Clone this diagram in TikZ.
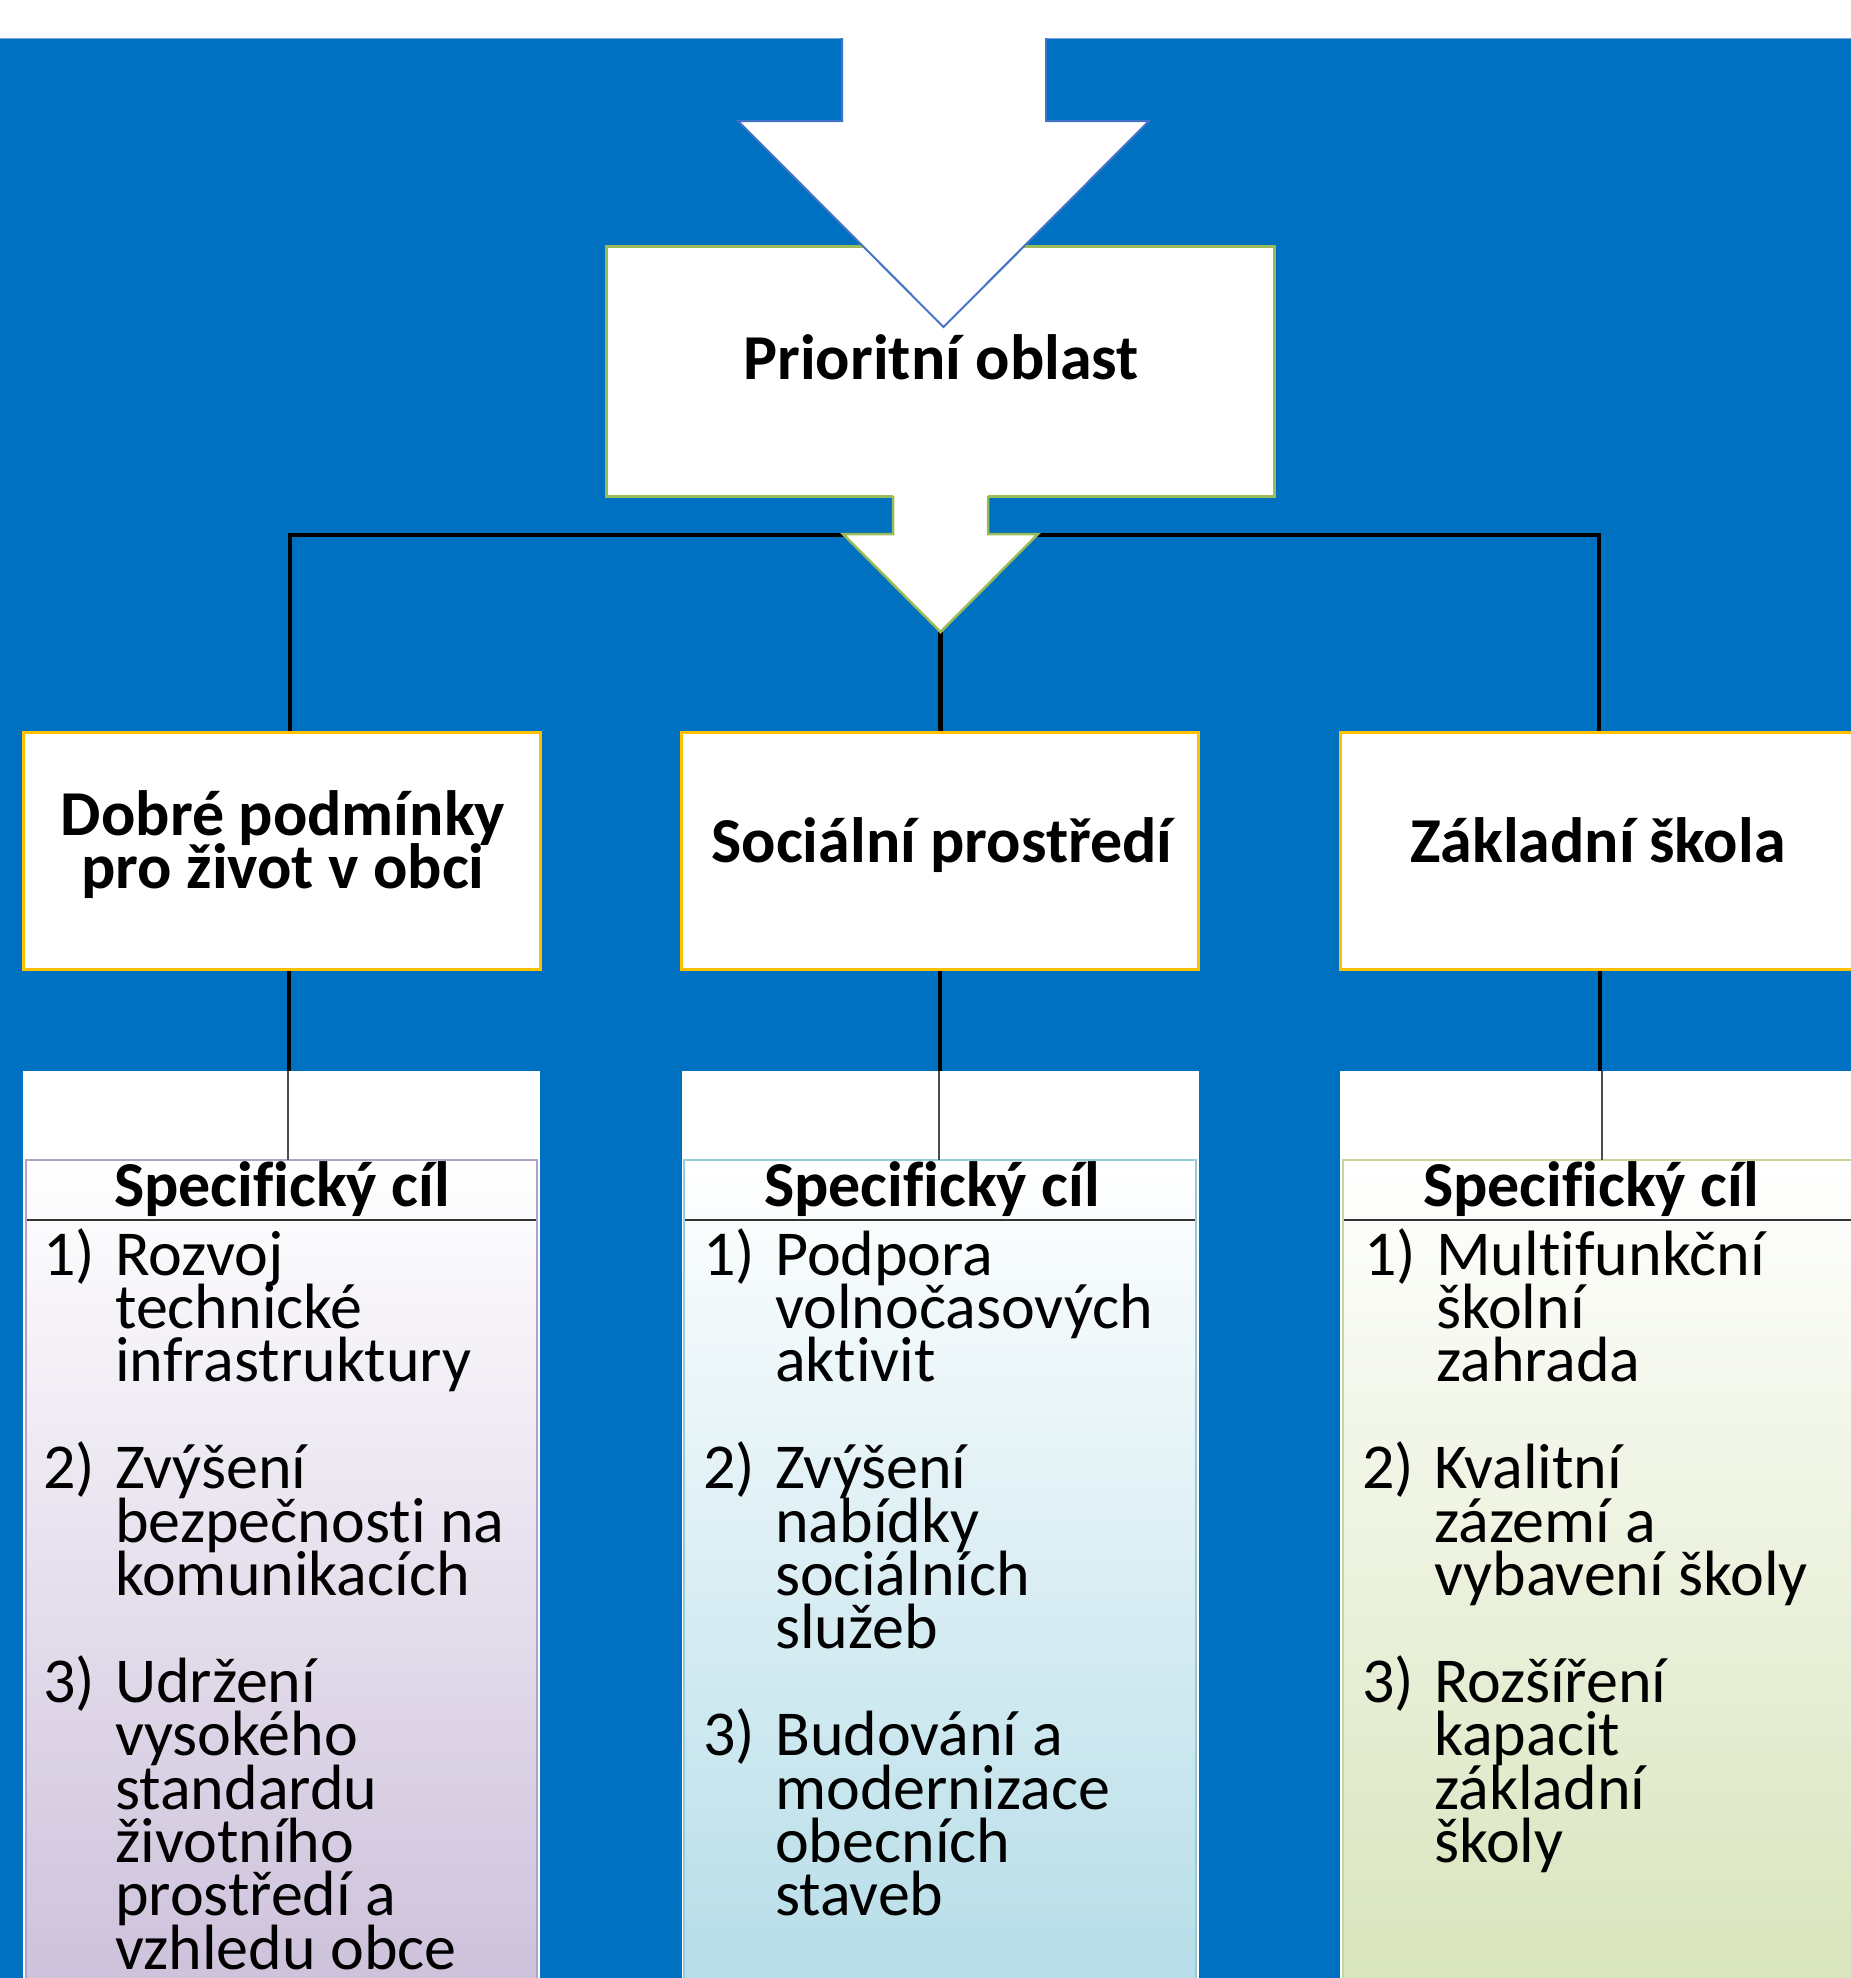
\documentclass[tikz,border=0pt]{standalone}
\usepackage{fontspec}
\setmainfont{Carlito}[Ligatures=NoCommon]
\definecolor{bgblue}{HTML}{0070C0}
\definecolor{arrblue}{HTML}{4472C4}
\definecolor{pgreen}{HTML}{9BBB59}
\definecolor{goldb}{HTML}{FFC000}
\definecolor{lavB}{HTML}{B3A2C7}
\definecolor{lavF}{HTML}{CDC1DB}
\definecolor{aquaB}{HTML}{93CDDD}
\definecolor{aquaF}{HTML}{B6DDE8}
\definecolor{oliveB}{HTML}{C3D69B}
\definecolor{oliveF}{HTML}{D8E4BC}
\tikzset{
  conn/.style={line width=4.5pt, black},
  thinconn/.style={line width=2pt, black!70},
  lvltwo/.style={draw=goldb, line width=3pt, fill=white, minimum width=517pt, minimum height=237pt, inner sep=0pt},
  panel/.style={fill=white, minimum width=517pt, minimum height=919pt, inner sep=0pt},
  boxtxt/.style={font=\bfseries\fontsize{64}{53}\selectfont, anchor=base, inner sep=0pt},
  itm/.style={font=\fontsize{64}{53}\selectfont, anchor=base west, inner sep=0pt},
  hdr/.style={font=\bfseries\fontsize{64}{53}\selectfont, anchor=base, inner sep=0pt},
  hdrline/.style={line width=1.5pt, black!80},
}
\newcommand\goal[5]{%
  \node[itm] (#1n) at (#2, {1275+53.4*#3}) {#4};
  \foreach \gline [count=\k from 0] in {#5} {
    \node[itm] (#1l\k) at ({#2+72}, {1275+53.4*(#3+\k)}) {\gline};
  }
}
\begin{document}
\begin{tikzpicture}[x=1pt,y=-1pt]
\useasboundingbox (0,0) rectangle (1851,1978);
\fill[white] (0,0) rectangle (1851,1978);
% blue background
\fill[bgblue] (0,38) rectangle (1851,1990);
\draw[arrblue!70, line width=1.5pt] (0,38.5) -- (1851,38.5);

% priority box
\node[draw=pgreen, line width=3pt, fill=white, minimum width=668pt, minimum height=250pt, inner sep=0pt] (po) at (940,371) {};

% big arrow from top
\fill[white] (842,-5) -- (842,121) -- (738,121) -- (943.5,327) -- (1149,121) -- (1046,121) -- (1046,-5) -- cycle;
\draw[arrblue, line width=2pt, line join=miter] (842,38) -- (842,121) -- (738,121) -- (943.5,327) -- (1149,121) -- (1046,121) -- (1046,38);

% level-2 boxes
\node[lvltwo] (b1) at (281.5,850.5) {};
\node[lvltwo] (b2) at (940,850.5) {};
\node[lvltwo] (b3) at (1598.5,850.5) {};

% connectors
\coordinate (hl) at (290,535);
\coordinate (hr) at (1599,535);
\coordinate (tip) at (940.5,632);
\draw[conn] (b1.north -| hl) -- (hl) -- (hr) -- (b3.north -| hr);
\draw[conn] (tip) -- (b2.north -| tip);

% small arrow
\fill[white] (893,492) -- (893,534) -- (843,534) -- (940.5,632) -- (1038,534) -- (988,534) -- (988,492) -- cycle;
\draw[pgreen, line width=2.5pt, line join=miter] (893,496) -- (893,534) -- (843,534) -- (940.5,632) -- (1038,534) -- (988,534) -- (988,496);

% panels
\node[panel] (p1) at (281.5,1530.5) {};
\node[panel] (p2) at (940,1530.5) {};
\node[panel] (p3) at (1598.5,1530.5) {};

\coordinate (x1) at (289,0);
\coordinate (x2) at (940,0);
\coordinate (x3) at (1600,0);
\draw[conn] (b1.south -| x1) -- (p1.north -| x1);
\draw[conn] (b2.south -| x2) -- (p2.north -| x2);
\draw[conn] (b3.south -| x3) -- (p3.north -| x3);

% tables
\shade[top color=white, bottom color=lavF] (26,1160) rectangle (537,1990);
\draw[lavB, line width=2.5pt] (26,1990) -- (26,1160) -- (537,1160) -- (537,1990);
\shade[top color=white, bottom color=aquaF] (684,1160) rectangle (1196,1990);
\draw[aquaB, line width=2.5pt] (684,1990) -- (684,1160) -- (1196,1160) -- (1196,1990);
\shade[top color=white, bottom color=oliveF] (1343,1160) rectangle (1860,1990);
\draw[oliveB, line width=2.5pt] (1343,1990) -- (1343,1160) -- (1860,1160);

\coordinate (s1) at (288,1160);
\coordinate (s2) at (939,1160);
\coordinate (s3) at (1602,1160);
\draw[thinconn] (p1.north -| s1) -- (s1);
\draw[thinconn] (p2.north -| s2) -- (s2);
\draw[thinconn] (p3.north -| s3) -- (s3);

\draw[hdrline] (27,1220) -- (536,1220);
\draw[hdrline] (685,1220) -- (1195,1220);
\draw[hdrline] (1344,1220) -- (1851,1220);

% texts
\node[boxtxt] (pot) at (941,379) {Prioritní oblast};
\node[boxtxt] (t1a) at (283,835) {Dobré podmínky};
\node[boxtxt] (t1b) at (283,888) {pro život v obci};
\node[boxtxt] (t2) at (942,862) {Sociální prostředí};
\node[boxtxt] (t3) at (1598,862) {Základní škola};

\node[hdr] (h1) at (282,1206) {Specifický cíl};
\node[hdr] (h2) at (932,1206) {Specifický cíl};
\node[hdr] (h3) at (1591,1206) {Specifický cíl};

\goal{ga}{43}{0}{1)}{Rozvoj, technické, infrastruktury}
\goal{gb}{43}{4}{2)}{Zvýšení, bezpečnosti na, komunikacích}
\goal{gc}{43}{8}{3)}{Udržení, vysokého, standardu, životního, prostředí a, vzhledu obce}

\goal{gd}{703}{0}{1)}{Podpora, volnočasových, aktivit}
\goal{ge}{703}{4}{2)}{Zvýšení, nabídky, sociálních, služeb}
\goal{gf}{703}{9}{3)}{Budování a, modernizace, obecních, staveb}

\goal{gg}{1364}{0}{1)}{Multifunkční, školní, zahrada}
\goal{gh}{1362}{4}{2)}{Kvalitní, zázemí a, vybavení školy}
\goal{gi}{1362}{8}{3)}{Rozšíření, kapacit, základní, školy}
\end{tikzpicture}
\end{document}
